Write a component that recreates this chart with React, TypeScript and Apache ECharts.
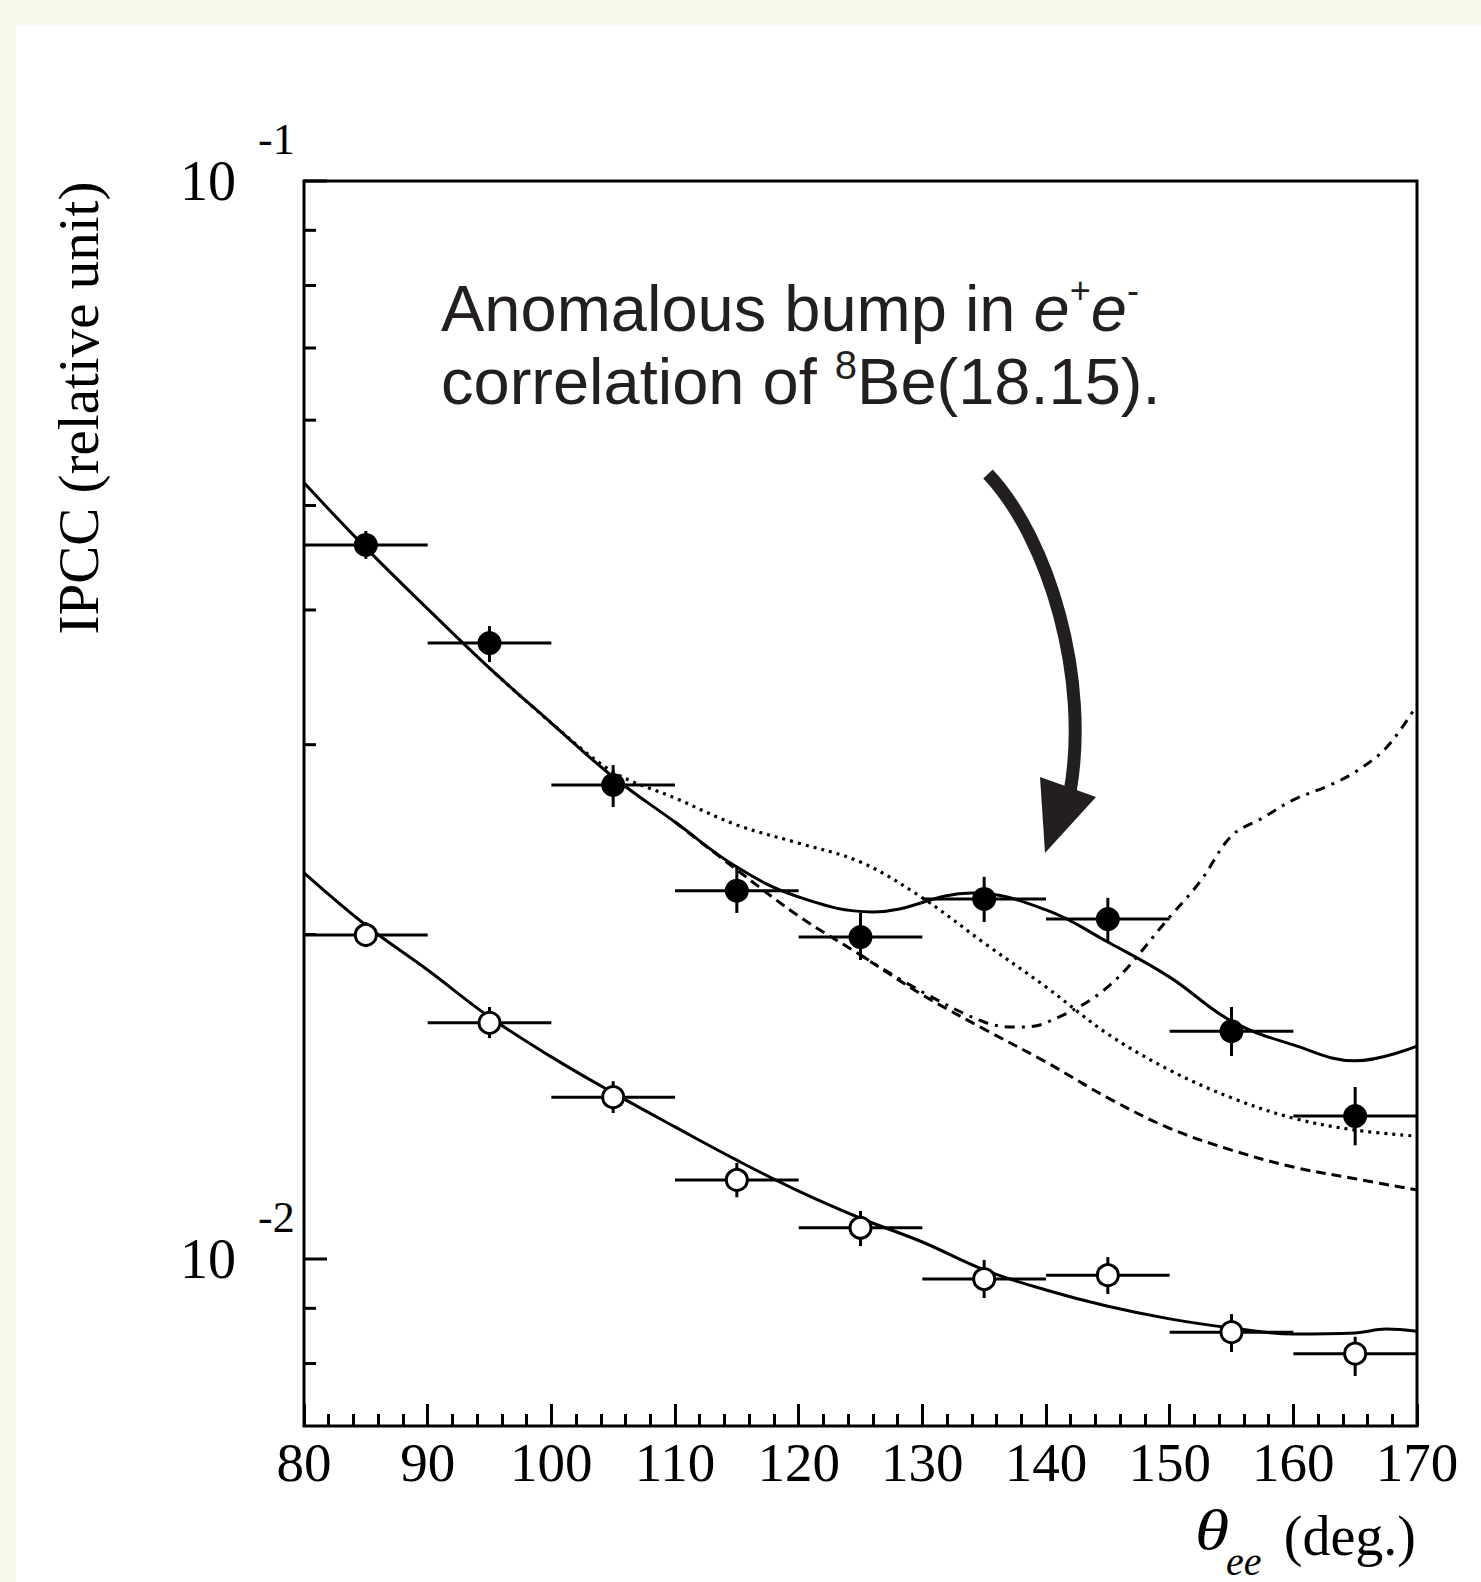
import React, { useEffect, useRef } from "react";
import * as echarts from "echarts";

// ---- data ----
const binCenters = [85, 95, 105, 115, 125, 135, 145, 155, 165];
const binHalfWidth = 5;

const filledValues = [0.04596, 0.03727, 0.02753, 0.02196, 0.01989, 0.02158, 0.02067, 0.01627, 0.01357];
const filledLow = [0.04461, 0.03579, 0.02626, 0.02094, 0.01894, 0.02054, 0.01968, 0.01543, 0.01275];
const filledHigh = [0.04735, 0.03865, 0.02872, 0.0231, 0.02094, 0.02262, 0.02163, 0.01713, 0.01444];

const openValues = [0.01998, 0.01656, 0.01413, 0.01184, 0.01069, 0.009581, 0.00966, 0.008554, 0.00817];
const openLow = [0.01947, 0.01603, 0.01366, 0.01141, 0.01028, 0.0092, 0.00928, 0.0082, 0.00779];
const openHigh = [0.02054, 0.01713, 0.01462, 0.01228, 0.01108, 0.00998, 0.01004, 0.00889, 0.00847];

const fitFilledX = [80, 85, 90, 95, 100, 105, 110, 115, 120, 126, 134, 140, 145, 150, 155, 160, 165, 170];
const fitFilledY = [0.05248, 0.04567, 0.04009, 0.03533, 0.03142, 0.028, 0.02543, 0.0231, 0.02167, 0.02099, 0.02185, 0.02108, 0.01968, 0.01826, 0.01662, 0.0158, 0.01527, 0.01576];

const dottedX = [95, 100, 105, 110, 115, 120, 125, 130, 135, 140, 145, 150, 155, 160, 165, 170];
const dottedY = [0.03533, 0.03142, 0.0283, 0.02677, 0.02527, 0.02431, 0.02335, 0.02163, 0.01964, 0.01788, 0.01617, 0.01497, 0.01411, 0.01351, 0.01317, 0.013];

const dashedX = [110, 115, 120, 125, 130, 135, 140, 145, 150, 155, 160, 165, 170];
const dashedY = [0.02543, 0.02296, 0.0208, 0.01914, 0.01758, 0.01634, 0.01523, 0.01411, 0.01322, 0.01262, 0.01217, 0.01187, 0.01159];

const dashDotX = [125, 130, 135, 137.5, 140, 145, 150, 152.5, 155, 157.5, 160, 163, 165, 167.5, 170];
const dashDotY = [0.01914, 0.01769, 0.01659, 0.01641, 0.01656, 0.01788, 0.02076, 0.02242, 0.02469, 0.02565, 0.02666, 0.02753, 0.0283, 0.02979, 0.03265];

const fitOpenX = [80, 85, 90, 95, 100, 105, 110, 115, 120, 125, 130, 135, 140, 145, 150, 155, 160, 165, 167.5, 170];
const fitOpenY = [0.02281, 0.0204, 0.01854, 0.01677, 0.0154, 0.01426, 0.01326, 0.01235, 0.01156, 0.01091, 0.01037, 0.00977, 0.00936, 0.00904, 0.0088, 0.00863, 0.00852, 0.00854, 0.00861, 0.00857];

const yTickValues = [0.008, 0.009, 0.01, 0.02, 0.03, 0.04, 0.05, 0.06, 0.07, 0.08, 0.09, 0.1];
const yLabelValues = [0.01, 0.1];
const yLabelExponents = ["-2", "-1"];

const SERIF = '"Liberation Serif", "Times New Roman", serif';
const SANS = '"Liberation Sans", Arial, Helvetica, sans-serif';
const INK = "#231f20";

export default function App() {
  const ref = useRef<HTMLDivElement>(null);

  useEffect(() => {
    if (!ref.current) return;
    const chart = echarts.init(ref.current, null, { renderer: "svg" });

    const pairs = (xs: number[], ys: number[]) => xs.map((x, i) => [x, ys[i]]);
    const curve = (xs: number[], ys: number[], type: any, z: number, smooth = 0.35, width = 3) => ({
      type: "line",
      data: pairs(xs, ys),
      showSymbol: false,
      symbol: "none",
      smooth,
      silent: true,
      z,
      lineStyle: { color: "#000", width, type, cap: "butt" },
    });

    const errorSeries = (vals: number[], lo: number[], hi: number[], z: number) => ({
      type: "custom",
      coordinateSystem: "cartesian2d",
      silent: true,
      clip: false,
      z,
      encode: { x: 0, y: 1 },
      data: binCenters.map((x, i) => [x, vals[i], lo[i], hi[i]]),
      renderItem: (_p: any, api: any) => {
        const x = api.value(0);
        const y = api.value(1);
        const l = api.coord([x - binHalfWidth, y]);
        const r = api.coord([x + binHalfWidth, y]);
        const b = api.coord([x, api.value(2)]);
        const t = api.coord([x, api.value(3)]);
        return {
          type: "group",
          children: [
            { type: "line", shape: { x1: l[0], y1: l[1], x2: r[0], y2: r[1] }, style: { stroke: "#000", lineWidth: 3 } },
            { type: "line", shape: { x1: b[0], y1: b[1], x2: t[0], y2: t[1] }, style: { stroke: "#000", lineWidth: 3 } },
          ],
        };
      },
    });

    const option: any = {
      animation: false,
      backgroundColor: "#ffffff",
      grid: {
        left: 304,
        top: 181,
        width: 1113,
        height: 1245,
        show: true,
        borderColor: "#000",
        borderWidth: 3,
        backgroundColor: "transparent",
      },
      xAxis: {
        type: "value",
        min: 80,
        max: 170,
        interval: 10,
        axisLine: { show: false },
        axisTick: { show: true, inside: true, length: 22, lineStyle: { color: "#000", width: 3 } },
        minorTick: { show: true, splitNumber: 5, length: 12, lineStyle: { color: "#000", width: 3 } },
        axisLabel: { color: "#000", fontSize: 55, fontFamily: SERIF, margin: 9 },
        splitLine: { show: false },
        minorSplitLine: { show: false },
      },
      yAxis: {
        type: "log",
        logBase: 10,
        min: 0.007,
        max: 0.1,
        axisLine: { show: false },
        axisTick: { show: false },
        axisLabel: { show: false },
        splitLine: { show: false },
      },
      series: [
        curve(dashedX, dashedY, [10, 6], 2),
        curve(dashDotX, dashDotY, [10, 7, 3, 7], 2),
        curve(dottedX, dottedY, [3, 5], 2, 0.35, 3.2),
        curve(fitFilledX, fitFilledY, "solid", 3, 0.4),
        curve(fitOpenX, fitOpenY, "solid", 3, 0.4),
        errorSeries(filledValues, filledLow, filledHigh, 4),
        errorSeries(openValues, openLow, openHigh, 4),
        {
          type: "scatter",
          silent: true,
          z: 5,
          symbol: "circle",
          symbolSize: 24,
          itemStyle: { color: "#000", opacity: 1 },
          data: pairs(binCenters, filledValues),
        },
        {
          type: "scatter",
          silent: true,
          z: 5,
          symbol: "circle",
          symbolSize: 21,
          itemStyle: { color: "#fff", borderColor: "#000", borderWidth: 3, opacity: 1 },
          data: pairs(binCenters, openValues),
        },
        {
          type: "custom",
          coordinateSystem: "cartesian2d",
          silent: true,
          clip: false,
          z: 6,
          encode: { x: 0, y: 1 },
          data: yTickValues.map((v) => [80, v, yLabelValues.indexOf(v) >= 0 ? 1 : 0]),
          renderItem: (_p: any, api: any) => {
            const p = api.coord([api.value(0), api.value(1)]);
            const len = api.value(2) ? 23 : 12;
            return {
              type: "line",
              shape: { x1: p[0], y1: p[1], x2: p[0] + len, y2: p[1] },
              style: { stroke: "#000", lineWidth: 3 },
            };
          },
        },
        {
          type: "custom",
          coordinateSystem: "cartesian2d",
          silent: true,
          clip: false,
          z: 6,
          encode: { x: 0, y: 1 },
          data: yLabelValues.map((v, i) => [80, v, i]),
          renderItem: (_p: any, api: any) => {
            const p = api.coord([api.value(0), api.value(1)]);
            const exp = yLabelExponents[api.value(2)];
            return {
              type: "group",
              children: [
                {
                  type: "text",
                  x: p[0] - 68,
                  y: p[1],
                  style: {
                    text: "10",
                    fill: "#000",
                    fontSize: 56,
                    fontFamily: SERIF,
                    align: "right",
                    verticalAlign: "middle",
                    textAlign: "right",
                    textVerticalAlign: "middle",
                  },
                },
                {
                  type: "text",
                  x: p[0] - 46,
                  y: p[1] - 42,
                  style: {
                    text: exp,
                    fill: "#000",
                    fontSize: 44,
                    fontFamily: SERIF,
                    align: "left",
                    verticalAlign: "middle",
                    textAlign: "left",
                    textVerticalAlign: "middle",
                  },
                },
              ],
            };
          },
        },
      ],
      graphic: [
        { type: "rect", silent: true, z: 0, shape: { x: 0, y: 0, width: 1481, height: 25 }, style: { fill: "#fafaec" } },
        { type: "rect", silent: true, z: 0, shape: { x: 0, y: 0, width: 16, height: 1582 }, style: { fill: "#fafaec" } },
        {
          type: "text",
          silent: true,
          x: 78,
          y: 408,
          rotation: Math.PI / 2,
          style: {
            text: "IPCC (relative unit)",
            fill: "#000",
            fontSize: 57,
            fontFamily: SERIF,
            align: "center",
            verticalAlign: "middle",
            textAlign: "center",
            textVerticalAlign: "middle",
          },
        },
        {
          type: "text",
          silent: true,
          x: 1195,
          y: 1530,
          scaleX: 1.2,
          style: {
            text: "θ",
            fill: "#000",
            fontSize: 58,
            fontStyle: "italic",
            fontFamily: SERIF,
            align: "left",
            verticalAlign: "middle",
            textAlign: "left",
            textVerticalAlign: "middle",
          },
        },
        {
          type: "text",
          silent: true,
          x: 1226,
          y: 1561,
          style: {
            text: "ee",
            fill: "#000",
            fontSize: 40,
            fontStyle: "italic",
            fontFamily: SERIF,
            align: "left",
            verticalAlign: "middle",
            textAlign: "left",
            textVerticalAlign: "middle",
          },
        },
        {
          type: "text",
          silent: true,
          x: 1416,
          y: 1536,
          style: {
            text: "(deg.)",
            fill: "#000",
            fontSize: 56,
            fontFamily: SERIF,
            align: "right",
            verticalAlign: "middle",
            textAlign: "right",
            textVerticalAlign: "middle",
          },
        },
        {
          type: "text",
          silent: true,
          z: 100,
          x: 441,
          y: 272,
          style: {
            text: "Anomalous bump in {i|e}{s|+}{i|e}{s|-}",
            fill: INK,
            fontSize: 65,
            fontFamily: SANS,
            lineHeight: 72,
            align: "left",
            verticalAlign: "top",
            textAlign: "left",
            textVerticalAlign: "top",
            rich: {
              i: { fontSize: 65, fontFamily: SANS, fontStyle: "italic", lineHeight: 72, fill: INK, color: INK },
              s: { fontSize: 36, fontFamily: SANS, lineHeight: 46, verticalAlign: "top", fill: INK, color: INK },
            },
          },
        },
        {
          type: "text",
          silent: true,
          z: 100,
          x: 441,
          y: 345,
          style: {
            text: "correlation of {s|8}Be(18.15).",
            fill: INK,
            fontSize: 65,
            fontFamily: SANS,
            lineHeight: 72,
            align: "left",
            verticalAlign: "top",
            textAlign: "left",
            textVerticalAlign: "top",
            rich: {
              s: { fontSize: 40, fontFamily: SANS, lineHeight: 46, verticalAlign: "top", fill: INK, color: INK },
            },
          },
        },
        {
          type: "bezierCurve",
          silent: true,
          z: 100,
          shape: { x1: 988, y1: 474, cpx1: 1050, cpy1: 540, cpx2: 1090, cpy2: 680, x2: 1070, y2: 792 },
          style: { stroke: INK, lineWidth: 13, fill: null },
        },
        {
          type: "polygon",
          silent: true,
          z: 100,
          shape: { points: [[1040, 777], [1096, 797], [1045, 853]] },
          style: { fill: INK },
        },
      ],
    };

    chart.setOption(option);
    return () => chart.dispose();
  }, []);

  return <div ref={ref} style={{ position: "fixed", left: 0, top: 0, width: 1481, height: 1582 }} />;
}
